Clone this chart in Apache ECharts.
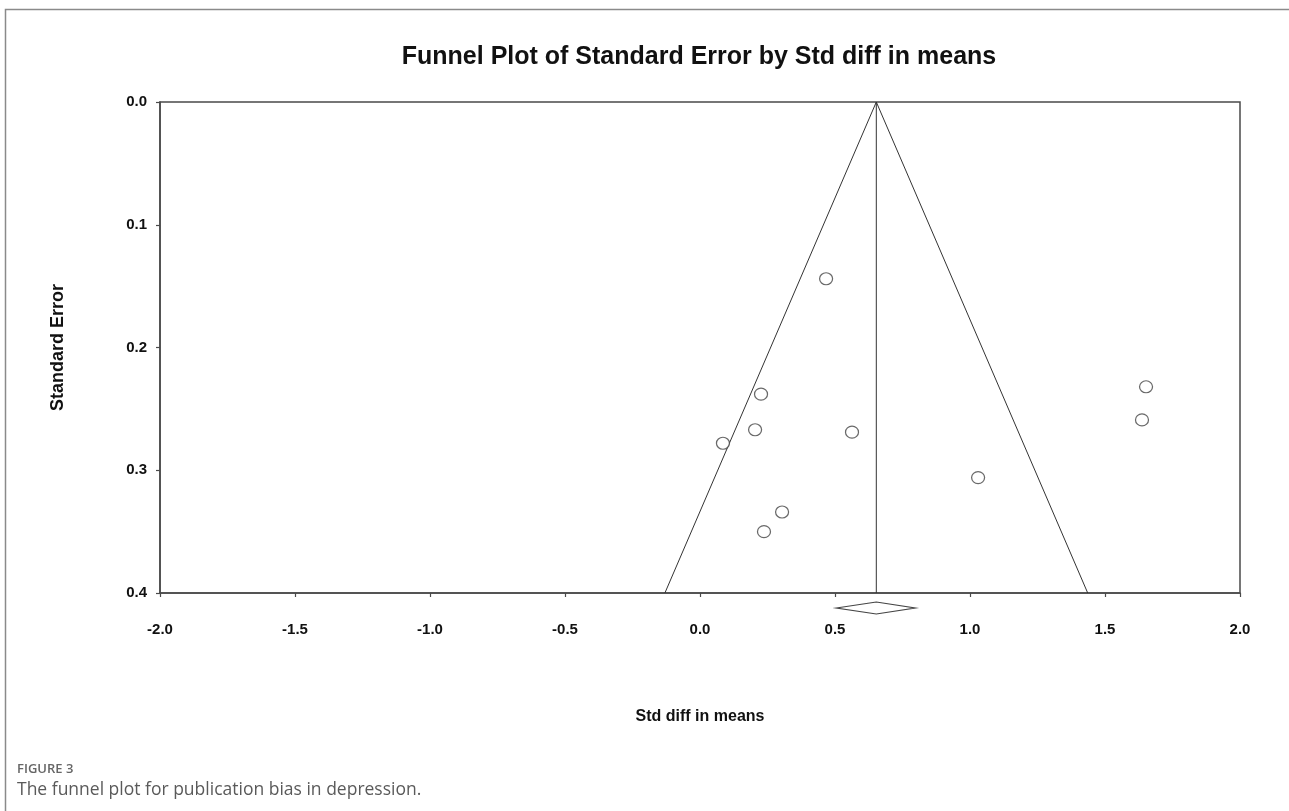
<!DOCTYPE html>
<html><head><meta charset="utf-8">
<script src="https://cdn.jsdelivr.net/npm/echarts@6/dist/echarts.min.js"></script>
<style>html,body{margin:0;padding:0;background:#fff;} #c{width:1289px;height:811px;}</style>
</head><body><div id="c"></div>
<script>
// Study-level data
const studyEffect = [0.467, 0.226, 0.204, 0.085, 0.563, 0.304, 0.237, 1.030, 1.652, 1.637];
const studySE     = [0.144, 0.238, 0.267, 0.278, 0.269, 0.334, 0.350, 0.306, 0.232, 0.259];
// Pooled estimate (diamond) and funnel limits at SE = 0.4
const pooledEffect = 0.653;
const pooledCI = [0.505, 0.797];
const funnelLimitsAtMaxSE = [-0.13, 1.436];
const xTickValues = [-2.0, -1.5, -1.0, -0.5, 0.0, 0.5, 1.0, 1.5, 2.0];
const yTickValues = [0.0, 0.1, 0.2, 0.3, 0.4];

const FONT = "'Liberation Sans', Arial, sans-serif";
const AX = '#4a4a4a';

const points = studyEffect.map((x, i) => [x, studySE[i]]);
const seMax = yTickValues[yTickValues.length - 1];
const funnel = [[funnelLimitsAtMaxSE[0], seMax], [pooledEffect, 0], [funnelLimitsAtMaxSE[1], seMax]];
const midline = [[pooledEffect, 0], [pooledEffect, seMax]];

const chart = echarts.init(document.getElementById('c'), null, {renderer: 'canvas'});
chart.setOption({
  animation: false,
  backgroundColor: '#fff',
  title: {
    text: 'Funnel Plot of Standard Error by Std diff in means',
    left: 699, top: 45, textAlign: 'center', padding: 0,
    textStyle: {fontFamily: FONT, fontWeight: 'bold', fontSize: 25, color: '#111'}
  },
  grid: {left: 160, right: 49, top: 102, bottom: 218, show: true, borderColor: AX, borderWidth: 1.5, backgroundColor: 'transparent'},
  xAxis: {
    type: 'value', min: xTickValues[0], max: xTickValues[xTickValues.length - 1], interval: 0.5,
    name: 'Std diff in means', nameLocation: 'middle', nameGap: 116,
    nameTextStyle: {fontFamily: FONT, fontWeight: 'bold', fontSize: 16, color: '#111'},
    axisLine: {show: true, onZero: false, lineStyle: {color: AX, width: 1.5}},
    axisTick: {show: true, length: 4, inside: false, lineStyle: {color: AX, width: 1.2}},
    splitLine: {show: false},
    axisLabel: {margin: 29, fontFamily: FONT, fontWeight: 'bold', fontSize: 15, color: '#111',
      formatter: v => v.toFixed(1)}
  },
  yAxis: {
    type: 'value', inverse: true, min: yTickValues[0], max: seMax, interval: 0.1,
    name: 'Standard Error', nameLocation: 'middle', nameGap: 93,
    nameTextStyle: {fontFamily: FONT, fontWeight: 'bold', fontSize: 18, color: '#111'},
    axisLine: {show: true, onZero: false, lineStyle: {color: AX, width: 1.5}},
    axisTick: {show: true, length: 4, lineStyle: {color: AX, width: 1.2}},
    splitLine: {show: false},
    axisLabel: {margin: 13, fontFamily: FONT, fontWeight: 'bold', fontSize: 15, color: '#111',
      formatter: v => v.toFixed(1)}
  },
  series: [
    {type: 'line', data: funnel, symbol: 'none', silent: true,
      lineStyle: {color: '#333', width: 1}, z: 2},
    {type: 'line', data: midline, symbol: 'none', silent: true,
      lineStyle: {color: '#333', width: 1}, z: 2},
    {type: 'scatter', data: points, symbol: 'circle', symbolSize: [13, 12],
      itemStyle: {color: '#fff', borderColor: '#444', borderWidth: 1.2}, z: 3},
    {type: 'custom', clip: false, data: [[pooledCI[0], pooledEffect, pooledCI[1]]],
      renderItem: function (params, api) {
        const l = api.coord([api.value(0), seMax]);
        const c = api.coord([api.value(1), seMax]);
        const r = api.coord([api.value(2), seMax]);
        const cy = c[1] + 15;
        return {type: 'polygon', shape: {points: [[l[0], cy], [c[0], cy - 6], [r[0], cy], [c[0], cy + 6]]},
          style: {fill: '#fff', stroke: '#444', lineWidth: 1.2}};
      }, z: 3}
  ],
  graphic: [
    {type: 'rect', left: 3, top: 7, z: -1, silent: true,
      shape: {x: 3.5, y: 7.5, width: 1300, height: 900},
      style: {fill: 'none', stroke: '#8a8a8a', lineWidth: 1.5}},
    {type: 'text', x: 17, y: 763, silent: true,
      style: {text: 'FIGURE 3', fontFamily: "'Open Sans', sans-serif", fontSize: 13, fontWeight: 600, fill: '#666'}},
    {type: 'text', x: 17, y: 781, silent: true,
      style: {text: 'The funnel plot for publication bias in depression.', fontFamily: "'Open Sans', sans-serif", fontSize: 17.5, fill: '#5a5a5a'}}
  ]
});
</script></body></html>
